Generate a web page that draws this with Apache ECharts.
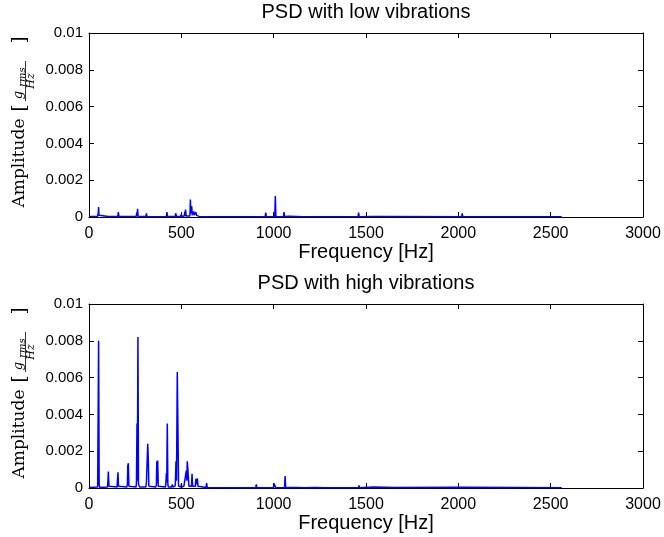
<!DOCTYPE html>
<html><head><meta charset="utf-8">
<script src="https://cdn.jsdelivr.net/npm/echarts@6/dist/echarts.min.js"></script>
<style>html,body{margin:0;padding:0;background:#fff}#c{width:664px;height:537px}</style>
</head><body><div id="c"></div><script>
const titles = ['PSD with low vibrations', 'PSD with high vibrations'];
const xLabel = 'Frequency [Hz]';
const yLabelWord = 'Amplitude';
const xTicks = [0, 500, 1000, 1500, 2000, 2500, 3000];
const yTicks = [0, 0.002, 0.004, 0.006, 0.008, 0.01];

const lowFreq = [0,46,48,50,52,54,58,105,108,111,156,159,162,256,259,261,263,266,308,311,314,365,368,371,419,422,425,467,469,471,474,497,500,503,516,519,521,523,526,530,546,547,549,552,556,559,564,567,570,577,579,582,590,592,595,598,602,700,954,957,960,964,967,1006,1009,1012,1053,1056,1059,1062,1065,1083,1160,1162,1164,1226,1457,1460,1463,1532,1583,2018,2021,2024,2560];
const lowAmp  = [0.00003,0.00003,0.0001,0.0002,0.00054,0.0001,0.00003,0.00003,0.00008,0.00003,0.00003,0.00027,0.00003,0.00003,0.00025,0.00005,0.00044,0.00003,0.00003,0.0002,0.00003,0.00002,0.0001,0.00002,0.00003,0.00027,0.00003,0.00003,0.0002,0.0003,0.00003,0.00003,0.00015,0.00003,0.00005,0.0003,0.00005,0.0004,0.00005,0.0001,0.00005,0.0002,0.00095,0.0002,0.0006,0.0001,0.0001,0.0003,0.0001,0.0001,0.00027,0.0001,0.00005,0.00012,0.00003,0.0001,0.00002,0.00002,0.00002,0.00024,0.00003,0.0001,0.00002,0.00002,0.00114,0.00002,0.00002,0.00026,0.00003,0.0001,0.00002,0.00004,0.00002,0.00007,0.00002,0.00002,0.00002,0.00024,0.00002,0.00003,0.00003,0.00002,0.0002,0.00002,0.00002];

const highFreq = [0,47,49,52,55,58,100,102,105,108,152,154,157,160,205,208,210,213,216,255,257,260,262,265,268,271,274,308,311,314,318,321,324,362,365,367,370,372,375,414,416,419,421,424,427,430,448,451,454,466,468,471,474,478,482,485,497,500,503,514,517,520,524,527,530,532,535,538,541,555,558,561,576,579,582,587,590,634,637,640,849,852,855,903,906,909,957,960,963,999,1002,1008,1011,1059,1062,1065,1083,1114,1168,1170,1172,1222,1276,1278,1280,1460,1462,1464,1541,1659,2022,2560];
const highAmp  = [0.00003,0.00005,0.0001,0.008,0.0002,0.00003,0.00005,0.0003,0.00089,0.0001,0.00005,0.0001,0.00086,0.0001,0.00005,0.0002,0.0012,0.00135,0.0001,0.00005,0.0003,0.0035,0.0004,0.0082,0.0002,0.0002,0.00005,0.00005,0.0003,0.0002,0.0024,0.0016,0.0001,0.00005,0.0002,0.00145,0.0003,0.0015,0.0001,0.00005,0.0002,0.0008,0.0003,0.0035,0.0002,0.00005,0.00005,0.0002,0.00005,0.0001,0.0003,0.00145,0.0004,0.0063,0.0029,0.0001,0.00005,0.0002,0.00005,0.0001,0.0003,0.0004,0.0002,0.00095,0.0004,0.00145,0.0011,0.001,0.0001,0.0001,0.00077,0.0001,0.0001,0.0005,0.0002,0.00052,0.0001,0.00003,0.00027,0.00003,0.00002,0.0001,0.00002,0.00002,0.0002,0.00002,0.00002,0.00005,0.00002,0.00002,0.00025,0.00025,0.00002,0.00002,0.00065,0.00002,0.00003,0.00003,0.00002,0.0001,0.00002,0.00003,0.00002,0.00007,0.00002,0.00002,0.00015,0.00002,0.00005,0.00003,0.00004,0.00002];

const seriesData = [
  lowFreq.map((f, i) => [f, lowAmp[i]]),
  highFreq.map((f, i) => [f, highAmp[i]])
];

const chart = echarts.init(document.getElementById('c'), null, {renderer: 'canvas'});
const gridTop = [33, 304];
const gridH = 184;
const sans = 'Liberation Sans, Arial, sans-serif';
const serif = 'DejaVu Serif, serif';

const grid = [], xAxis = [], yAxis = [], series = [], graphic = [];
const tickStyle = {show: true, inside: true, length: 5, lineStyle: {color: '#000', width: 1}};
const lineStyle = {show: true, onZero: false, lineStyle: {color: '#000', width: 1}};

for (let i = 0; i < 2; i++) {
  grid.push({left: 89, right: 21, top: gridTop[i], height: gridH});
  const xCommon = {type: 'value', gridIndex: i, min: xTicks[0], max: xTicks[xTicks.length - 1],
    interval: xTicks[1] - xTicks[0], splitLine: {show: false}, axisLine: lineStyle, axisTick: tickStyle};
  xAxis.push(Object.assign({}, xCommon, {position: 'bottom',
    name: xLabel, nameLocation: 'middle', nameGap: 21,
    nameTextStyle: {fontFamily: sans, fontSize: 20, color: '#000', verticalAlign: 'top'},
    axisLabel: {show: true, margin: 9, fontFamily: sans, fontSize: 16, color: '#000',
      formatter: v => String(v)}}));
  xAxis.push(Object.assign({}, xCommon, {position: 'top', axisLabel: {show: false}}));
  const yCommon = {type: 'value', gridIndex: i, min: yTicks[0], max: yTicks[yTicks.length - 1],
    interval: yTicks[1] - yTicks[0], splitLine: {show: false}, axisLine: lineStyle, axisTick: tickStyle};
  yAxis.push(Object.assign({}, yCommon, {position: 'left',
    axisLabel: {show: true, margin: 6, fontFamily: sans, fontSize: 15, color: '#000',
      formatter: v => v === 0 ? '0' : String(+v.toFixed(4))}}));
  yAxis.push(Object.assign({}, yCommon, {position: 'right', axisLabel: {show: false}}));
  series.push({type: 'line', xAxisIndex: 2 * i, yAxisIndex: 2 * i, data: seriesData[i],
    showSymbol: false, symbol: 'none', animation: false,
    lineStyle: {color: '#0000ff', width: 1.5}, z: 3});

  const dy = i * 271;
  graphic.push({type: 'text', x: 366, y: 12.5 + dy,
    style: {text: titles[i], font: '20px ' + sans, fill: '#000', align: 'center', verticalAlign: 'middle'}});
  graphic.push({type: 'text', x: 20, y: 163 + dy, rotation: Math.PI / 2,
    style: {text: yLabelWord, font: '17px ' + serif, fill: '#000', align: 'center', verticalAlign: 'middle'}});
  graphic.push({type: 'text', x: 20, y: 108 + dy, rotation: Math.PI / 2,
    style: {text: '[', font: '18px ' + serif, fill: '#000', align: 'center', verticalAlign: 'middle'}});
  graphic.push({type: 'text', x: 20, y: 40 + dy, rotation: Math.PI / 2,
    style: {text: ']', font: '18px ' + serif, fill: '#000', align: 'center', verticalAlign: 'middle'}});
  graphic.push({type: 'text', x: 19, y: 95 + dy, rotation: Math.PI / 2,
    style: {text: 'g', font: 'italic 13px ' + serif, fill: '#000', align: 'center', verticalAlign: 'middle'}});
  graphic.push({type: 'text', x: 22, y: 77 + dy, rotation: Math.PI / 2,
    style: {text: 'rms', font: 'italic 10px ' + serif, fill: '#000', align: 'center', verticalAlign: 'middle'}});
  graphic.push({type: 'line', shape: {x1: 25.5, y1: 61 + dy, x2: 25.5, y2: 101 + dy},
    style: {stroke: '#000', lineWidth: 0.8}});
  graphic.push({type: 'text', x: 31, y: 81 + dy, rotation: Math.PI / 2,
    style: {text: 'Hz', font: 'italic 11px ' + serif, fill: '#000', align: 'center', verticalAlign: 'middle'}});
}

chart.setOption({animation: false, backgroundColor: '#fff', grid, xAxis, yAxis, series, graphic});
</script></body></html>
